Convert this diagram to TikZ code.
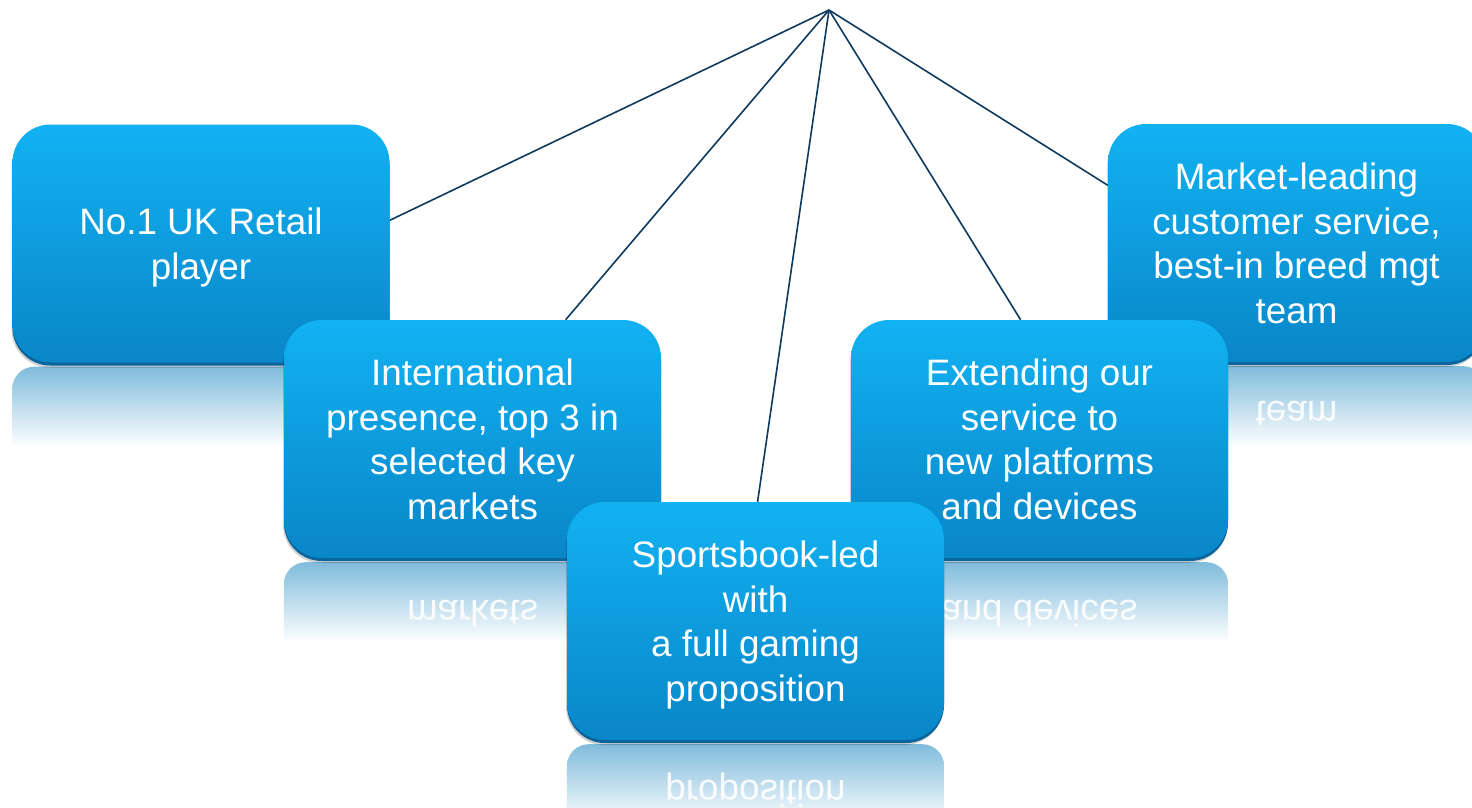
\documentclass[tikz,border=0pt]{standalone}
\usepackage{graphicx}
\usepackage{fontspec}
\setmainfont{Liberation Sans}
\usetikzlibrary{shadows,calc}
\definecolor{boxtop}{RGB}{18,178,242}
\definecolor{boxbot}{RGB}{9,134,200}
\definecolor{boxedge}{RGB}{8,100,155}
\definecolor{refl}{RGB}{128,188,220}
\definecolor{linkc}{RGB}{14,58,94}
\pgfdeclarelayer{bg}
\pgfdeclarelayer{refllayer}
\pgfsetlayers{bg,refllayer,main}
\tikzset{
  card/.style={rectangle, rounded corners=38pt, minimum width=377pt, minimum height=238pt,
    inner sep=0pt, top color=boxtop, bottom color=boxbot, draw=none, text=white,
    align=center, font=\fontsize{36.8}{44.6}\selectfont, text depth=0pt,
    drop shadow={shadow xshift=-1pt, shadow yshift=-5pt, opacity=0.18, fill=black},
    drop shadow={shadow xshift=0pt, shadow yshift=-3pt, opacity=1, fill=boxedge}},
  mirrortext/.style={anchor=base, text=white, font=\fontsize{36.8}{44.6}\selectfont,
    inner sep=0pt, opacity=0.9},
  link/.style={draw=linkc, line width=1.6pt},
}
\newcommand\cardreflection[1]{%
  \begin{scope}
    \clip[rounded corners=22pt] ($(#1.south west)+(0,4)$) rectangle ($(#1.south east)+(0,200)$);
    \shade[top color=refl, bottom color=white] ($(#1.south west)+(0,4)$) rectangle ($(#1.south east)+(0,84)$);
  \end{scope}}
\begin{document}
\begin{tikzpicture}[x=1pt,y=-1pt]
\useasboundingbox (0,0) rectangle (1472,807);
\clip (0,0) rectangle (1472,807);
\begin{pgfonlayer}{bg}
  \fill[white] (0,0) rectangle (1472,807);
\end{pgfonlayer}
\coordinate (apex) at (829,10);
% boxes, back to front
\node[card] (b1) at (201,243.5) {No.1 UK Retail\\player};
\node[card] (b5) at (1296.5,243) {Market-leading\\customer service,\\best-in breed mgt\\team};
\node[card] (b2) at (472.5,439) {International\\presence, top 3 in\\selected key\\markets};
\node[card] (b4) at (1039.5,439) {Extending our\\service to\\new platforms\\and devices};
\node[card] (b3) at (755.5,621) {Sportsbook-led\\with\\a full gaming\\proposition};
% reflections
\begin{pgfonlayer}{refllayer}
  \cardreflection{b1}
  \cardreflection{b5}
  \cardreflection{b2}
  \cardreflection{b4}
  \cardreflection{b3}
  \node[mirrortext] (m5) at ($(b5.south)+(0,39)$) {\scalebox{1}[-1]{team}};
  \node[mirrortext] (m2) at ($(b2.south)+(0,42)$) {\scalebox{1}[-1]{markets}};
  \node[mirrortext] (m4) at ($(b4.south)+(0,42)$) {\scalebox{1}[-1]{and devices}};
  \node[mirrortext] (m3) at ($(b3.south)+(0,40)$) {\scalebox{1}[-1]{proposition}};
\end{pgfonlayer}
% connectors
\begin{pgfonlayer}{bg}
  \draw[link] (apex) -- (b1.7);
  \draw[link] (apex) -- (b2.52);
  \draw[link] (apex) -- (b3.89);
  \draw[link] (apex) -- (b4.99);
  \draw[link] (apex) -- (b5.163);
\end{pgfonlayer}
\end{tikzpicture}
\end{document}
